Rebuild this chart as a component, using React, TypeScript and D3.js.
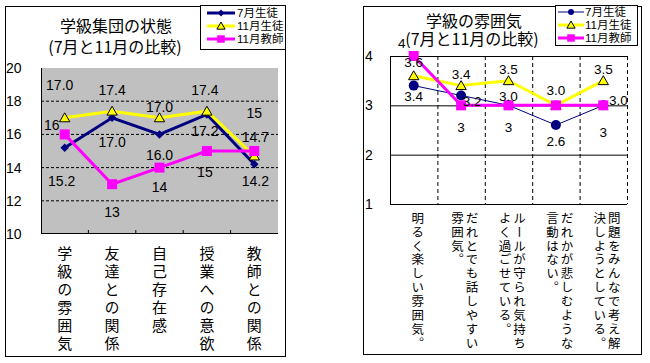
import React from 'react'
import * as d3 from 'd3'

// left chart: 学級集団の状態
const categoriesA = ['学級の雰囲気', '友達との関係', '自己存在感', '授業への意欲', '教師との関係']
const julyA = [15.2, 17.0, 16.0, 17.2, 14.2]
const novA = [17.0, 17.4, 17.0, 17.4, 14.7]
const teacherA = [16, 13, 14, 15, 15]
const yTicksA = [10, 12, 14, 16, 18, 20]

// right chart: 学級の雰囲気 (each category = columns, right to left)
const categoriesB = [
  ['明るく楽しい雰囲気。'],
  ['だれとでも話しやすい', '雰囲気。'],
  ['ルールが守られ気持ち', 'よく過ごせている。'],
  ['だれかが悲しむような', '言動はない。'],
  ['問題をみんなで考え解', '決しようとしている。'],
]
const julyB = [3.4, 3.2, 3.0, 2.6, 3.0]
const novB = [3.6, 3.4, 3.5, 3.0, 3.5]
const teacherB = [4, 3, 3, 3, 3]
const yTicksB = [1, 2, 3, 4]

const seriesNames = ['7月生徒', '11月生徒', '11月教師']

// data label nudges (dx, dy from the point), as placed in the original
const labelOffA = [
  [[-3, 33], [0, 24], [0, 21], [-2, 17], [1, 17]],
  [[-5, -33], [0, -21], [0, -11], [-2, -21], [1, -19]],
  [[-13, -9], [0, 28], [0, 19], [-2, 21], [0, -38]],
]
const labelOffB = [
  [[0, 11], [11, 6], [0, -9], [0, 16], [15, -5]],
  [[0, -13], [0, -11], [0, -11], [0, -15], [0, -11]],
  [[-12, -13], [0, 22], [0, 22], null, [0, 27]],
]

const FONT = '"Liberation Sans", "Noto Sans CJK JP", sans-serif'
const JP = '"Noto Sans CJK JP", sans-serif'
const NAVY = '#000080'
const YEL = '#ffff00'
const MAG = '#ff00ff'

function Marker({ kind, x, y, s = 1 }: any) {
  if (kind === 'diamond') {
    const p = d3.symbol(d3.symbolSquare, 36 * s * s)()
    return <path d={p!} transform={`translate(${x},${y}) rotate(45)`} fill={NAVY} />
  }
  if (kind === 'circle') {
    return <circle cx={x} cy={y} r={5 * s} fill={NAVY} />
  }
  if (kind === 'triangle') {
    const p = d3.symbol(d3.symbolTriangle, 46 * s * s)()
    return <path d={p!} transform={`translate(${x},${y + 1 * s})`} fill={YEL} stroke="#000" strokeWidth={1} />
  }
  const p = d3.symbol(d3.symbolSquare, 100 * s * s)()
  return <path d={p!} transform={`translate(${x},${y})`} fill={MAG} />
}

// one column of vertical text; y0 is the centre of the first character
function VText({ text, x, y0, step, size }: any) {
  return (
    <text
      x={x}
      y={y0 - size / 2}
      fontSize={size}
      fontFamily={JP}
      letterSpacing={step - size}
      style={{ writingMode: 'vertical-rl' } as any}
    >
      {text}
    </text>
  )
}

function Title({ lines, xs, ys }: any) {
  return (
    <text fontSize={16} fontFamily={JP} textAnchor="middle" dominantBaseline="central">
      {lines.map((l: string, i: number) => (
        <tspan key={i} x={xs[i]} y={ys[i]}>
          {l}
        </tspan>
      ))}
    </text>
  )
}

function Legend({ x, y, w, h, lineX0, lineX1, textX, rows, kinds, widths, ms }: any) {
  const colors = [NAVY, YEL, MAG]
  return (
    <g>
      <rect x={x} y={y} width={w} height={h} fill="#fff" stroke="#000" strokeWidth={1} />
      {seriesNames.map((n, i) => (
        <g key={n}>
          <line x1={lineX0} x2={lineX1} y1={rows[i]} y2={rows[i]} stroke={colors[i]} strokeWidth={widths[i]} />
          <Marker kind={kinds[i]} x={(lineX0 + lineX1) / 2} y={rows[i]} s={ms[i]} />
          <text x={textX} y={rows[i]} dominantBaseline="central" fontSize={11.5} fontFamily={FONT}>
            {n}
          </text>
        </g>
      ))}
    </g>
  )
}

function ChartA() {
  const x = d3.scaleBand().domain(categoriesA).range([41, 278])
  const y = d3.scaleLinear().domain([10, 20]).range([234, 68])
  const cx = (c: string) => x(c)! + x.bandwidth() / 2
  const series = [
    { data: julyA, color: NAVY, w: 3, kind: 'diamond', fmt: d3.format('.1f') },
    { data: novA, color: YEL, w: 3, kind: 'triangle', fmt: d3.format('.1f') },
    { data: teacherA, color: MAG, w: 3, kind: 'square', fmt: d3.format('d') },
  ]
  const line = d3.line<number>().x((_, i) => cx(categoriesA[i])).y((d) => y(d))
  return (
    <g>
      <rect x={5.5} y={6.5} width={280} height={350} fill="#fff" stroke="#000" />
      <Title lines={['学級集団の状態', '(7月と11月の比較)']} xs={[116, 115]} ys={[25, 46]} />
      <rect x={41} y={y(20)} width={237} height={y(10) - y(20)} fill="#c0c0c0" />
      {yTicksA.filter((t) => t > 10 && t < 20).map((t) => (
        <line key={t} x1={41} x2={278} y1={y(t)} y2={y(t)} stroke="#000" strokeDasharray="3,2" />
      ))}
      <line x1={41.5} x2={41.5} y1={y(20)} y2={y(10)} stroke="#000" />
      <line x1={41} x2={278} y1={y(10) - 0.5} y2={y(10) - 0.5} stroke="#000" />
      {categoriesA.slice(1).map((c) => (
        <line key={c} x1={x(c)!} x2={x(c)!} y1={y(10) - 4} y2={y(10)} stroke="#000" />
      ))}
      {yTicksA.map((t) => (
        <text key={t} x={6} y={y(t)} dominantBaseline="central" fontSize={14} fontFamily={FONT}>
          {t}
        </text>
      ))}
      {categoriesA.map((c) => (
        <VText key={c} text={c} x={cx(c)} y0={253} step={18} size={15} />
      ))}
      {series.map((s, k) => (
        <g key={k}>
          <path d={line(s.data)!} fill="none" stroke={s.color} strokeWidth={s.w} />
          {s.data.map((d, i) => (
            <Marker key={i} kind={s.kind} x={cx(categoriesA[i])} y={y(d)} />
          ))}
        </g>
      ))}
      {series.map((s, k) =>
        s.data.map((d, i) => (
          <text
            key={`${k}-${i}`}
            x={cx(categoriesA[i]) + labelOffA[k][i][0]}
            y={y(d) + labelOffA[k][i][1]}
            textAnchor="middle"
            dominantBaseline="central"
            fontSize={14}
            fontFamily={FONT}
          >
            {s.fmt(d)}
          </text>
        ))
      )}
      <Legend
        x={200.5} y={5.5} w={85} h={44}
        lineX0={207} lineX1={235} textX={237}
        rows={[13, 26, 39]}
        kinds={['diamond', 'triangle', 'square']}
        widths={[3, 3, 3]}
        ms={[0.8, 0.8, 0.75]}
      />
    </g>
  )
}

function ChartB() {
  const x = d3.scaleBand().domain(d3.range(categoriesB.length).map(String)).range([390, 627])
  const y = d3.scaleLinear().domain([1, 4]).range([204, 56])
  const cx = (i: number) => x(String(i))! + x.bandwidth() / 2
  const series = [
    { data: julyB, color: NAVY, w: 1, kind: 'circle', fmt: d3.format('.1f') },
    { data: novB, color: YEL, w: 3, kind: 'triangle', fmt: d3.format('.1f') },
    { data: teacherB, color: MAG, w: 3, kind: 'square', fmt: d3.format('d') },
  ]
  const line = d3.line<number>().x((_, i) => cx(i)).y((d) => y(d))
  return (
    <g>
      <rect x={363.5} y={6.5} width={278} height={348} fill="#fff" stroke="#000" />
      <Title lines={['学級の雰囲気', '(7月と11月の比較)']} xs={[474, 472]} ys={[19.5, 37.5]} />
      {yTicksB.filter((t) => t > 1).map((t) => (
        <line key={t} x1={390} x2={627} y1={y(t) + 0.5} y2={y(t) + 0.5} stroke="#000" />
      ))}
      {categoriesB.map((_, i) => (
        <line
          key={i}
          x1={x(String(i))! + x.bandwidth() + 0.5}
          x2={x(String(i))! + x.bandwidth() + 0.5}
          y1={y(4)}
          y2={y(1)}
          stroke="#000"
          strokeDasharray="4,3"
        />
      ))}
      <line x1={390.5} x2={390.5} y1={y(4)} y2={y(1)} stroke="#000" />
      <line x1={390} x2={627} y1={y(1) + 0.5} y2={y(1) + 0.5} stroke="#000" />
      {yTicksB.map((t) => (
        <text key={t} x={365} y={y(t)} dominantBaseline="central" fontSize={14} fontFamily={FONT}>
          {t}
        </text>
      ))}
      {categoriesB.map((cols, i) =>
        cols.map((col, j) => (
          <VText
            key={`${i}-${j}`}
            text={col}
            x={cols.length === 1 ? cx(i) + 4 : cx(i) + 11 - j * 14.5}
            y0={218}
            step={13.9}
            size={12.5}
          />
        ))
      )}
      {series.map((s, k) => (
        <g key={k}>
          <path d={line(s.data)!} fill="none" stroke={s.color} strokeWidth={s.w} />
          {s.data.map((d, i) => (
            <Marker key={i} kind={s.kind} x={cx(i)} y={y(d)} />
          ))}
        </g>
      ))}
      {series.map((s, k) =>
        s.data.map((d, i) => {
          const off = labelOffB[k][i]
          if (!off) return null
          return (
            <text
              key={`${k}-${i}`}
              x={cx(i) + off[0]}
              y={y(d) + off[1]}
              textAnchor="middle"
              dominantBaseline="central"
              fontSize={13.5}
              fontFamily={FONT}
            >
              {s.fmt(d)}
            </text>
          )
        })
      )}
      <Legend
        x={555.5} y={5.5} w={82} h={40}
        lineX0={558} lineX1={584} textX={585}
        rows={[12, 25, 38]}
        kinds={['circle', 'triangle', 'square']}
        widths={[1, 3, 3]}
        ms={[0.6, 0.8, 0.75]}
      />
    </g>
  )
}

export default function App() {
  return (
    <svg
      width={650}
      height={363}
      style={{ position: 'absolute', left: 0, top: 0, background: '#fff' }}
    >
      <ChartA />
      <ChartB />
    </svg>
  )
}
